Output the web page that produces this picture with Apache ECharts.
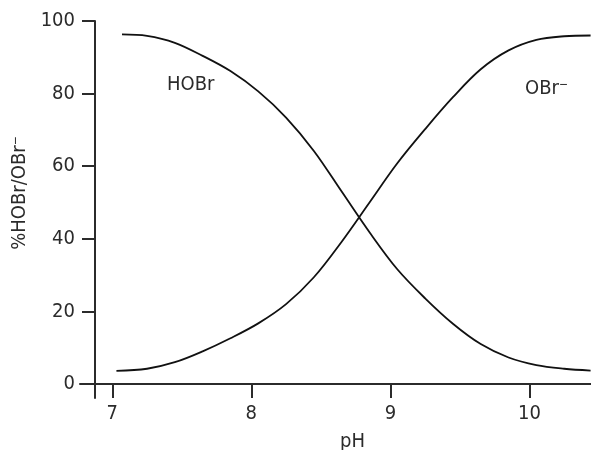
<!DOCTYPE html>
<html>
<head>
<meta charset="utf-8">
<script src="https://cdn.jsdelivr.net/npm/echarts@6/dist/echarts.min.js"></script>
<style>
  html, body { margin: 0; padding: 0; background: #fff; }
  #chart { width: 591px; height: 450px; }
</style>
</head>
<body>
<div id="chart"></div>
<script>
// values
var hobrPH = [7.07, 7.25, 7.45, 7.65, 7.85, 8.05, 8.25, 8.45, 8.65, 8.85, 9.05, 9.25, 9.45, 9.65, 9.85, 10.05, 10.25, 10.44];
var hobrPct = [96.3, 95.9, 94.0, 90.4, 86.2, 80.6, 73.4, 64.2, 53.0, 41.8, 31.6, 23.6, 16.6, 11.0, 7.3, 5.2, 4.2, 3.7];
var obrPH = [7.03, 7.25, 7.45, 7.65, 7.85, 8.05, 8.25, 8.45, 8.65, 8.85, 9.05, 9.25, 9.45, 9.65, 9.85, 10.05, 10.25, 10.44];
var obrPct = [3.6, 4.2, 6.0, 9.0, 12.6, 16.7, 22.0, 29.4, 39.2, 50.0, 60.8, 70.2, 79.0, 86.7, 91.9, 94.8, 95.8, 96.0];
var xTicks = [7, 8, 9, 10];
var yTicks = [0, 20, 40, 60, 80, 100];

var font = "'Liberation Sans Narrow', 'Arial Narrow', 'DejaVu Sans Condensed', sans-serif";
var ink = "#2b2b2b";

function pairs(xs, ys) {
  return xs.map(function (x, i) { return [x, ys[i]]; });
}

var supRich = {
  sup: { fontFamily: font, fontSize: 12, color: ink, verticalAlign: "top" }
};

var chart = echarts.init(document.getElementById("chart"));
chart.setOption({
  animation: false,
  grid: { left: 80, right: 0, top: 21, bottom: 52, outerBoundsMode: "none", containLabel: false },
  xAxis: {
    type: "value",
    min: 6.768,
    max: 10.443,
    name: "pH",
    nameLocation: "middle",
    nameGap: 34,
    nameTextStyle: { fontFamily: font, fontSize: 20, color: ink, padding: [0, 0, 0, 34] },
    axisLine: { onZero: true, lineStyle: { color: ink, width: 2 } },
    axisTick: { show: true, customValues: xTicks, length: 14, lineStyle: { color: ink, width: 2 } },
    axisLabel: { customValues: xTicks, margin: 6, fontFamily: font, fontSize: 20, color: ink },
    splitLine: { show: false }
  },
  yAxis: {
    type: "value",
    min: -3.86,
    max: 100,
    offset: -15,
    axisLine: { show: true, lineStyle: { color: ink, width: 2 } },
    axisTick: { show: true, customValues: yTicks, length: 13, lineStyle: { color: ink, width: 2 } },
    axisLabel: { customValues: yTicks, margin: 20, fontFamily: font, fontSize: 20, color: ink },
    splitLine: { show: false }
  },
  series: [
    {
      name: "HOBr",
      type: "line",
      smooth: 0.35,
      symbol: "none",
      lineStyle: { color: "#111", width: 1.8 },
      data: pairs(hobrPH, hobrPct)
    },
    {
      name: "OBr⁻",
      type: "line",
      smooth: 0.35,
      symbol: "none",
      lineStyle: { color: "#111", width: 1.8 },
      data: pairs(obrPH, obrPct)
    }
  ],
  graphic: [
    {
      type: "text", x: 20, y: 193, rotation: Math.PI / 2,
      style: { text: "%HOBr/OBr{sup|−}", rich: supRich, font: "20px " + font, fill: ink, align: "center", verticalAlign: "middle" }
    },
    { type: "text", left: 167, top: 75, style: { text: "HOBr", font: "20px " + font, fill: ink } },
    { type: "text", left: 525, top: 79, style: { text: "OBr{sup|−}", rich: supRich, font: "20px " + font, fill: ink } }
  ]
});
</script>
</body>
</html>
